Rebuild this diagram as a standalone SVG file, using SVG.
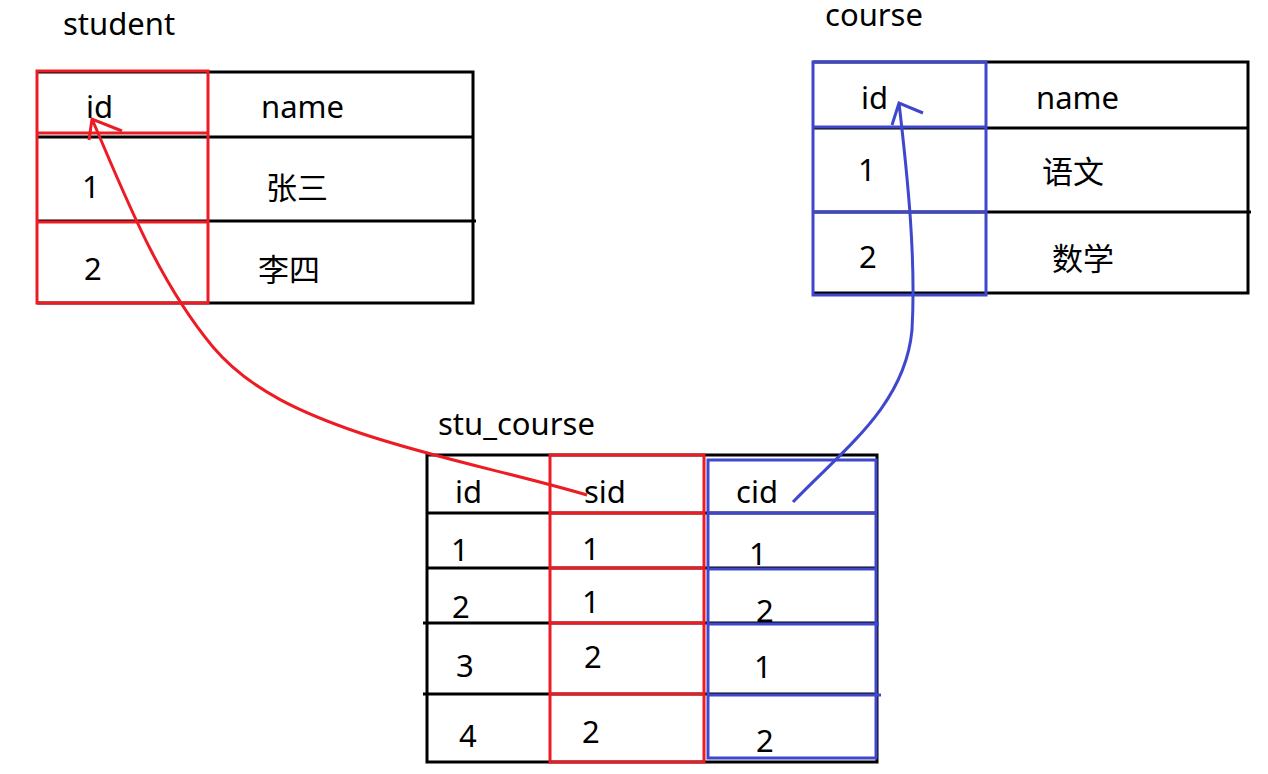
<svg xmlns="http://www.w3.org/2000/svg" width="1268" height="774" viewBox="0 0 1268 774">
<style>
text{font-family:"Noto Sans","Noto Sans CJK SC",sans-serif;font-size:31px;fill:#000}
.blk{fill:none;stroke:#000;stroke-width:3}
.red{fill:none;stroke:#ED1C24;stroke-width:3}
.blue{fill:none;stroke:#3F48CC;stroke-width:3}
</style>
<rect width="1268" height="774" fill="#fff"/>

<g id="student">
<text x="63" y="35">student</text>
<path class="blk" d="M37,72H473V303H37M37,137H473M37,221H476"/>
<path class="red" d="M37,71H208V303H37ZM37,133H208M37,222H208"/>
<text x="86" y="118">id</text>
<text x="261" y="118">name</text>
<text x="82" y="198">1</text>
<text x="266" y="199">张三</text>
<text x="84" y="280">2</text>
<text x="258" y="281">李四</text>
</g>

<g id="course">
<text x="825" y="26">course</text>
<path class="blk" d="M813,62H1248V293H813M813,128H1248M813,212H1251"/>
<path class="blue" d="M813,62H986V295H813ZM813,127H986M813,212H986"/>
<text x="861" y="109">id</text>
<text x="1036" y="109">name</text>
<text x="858" y="181">1</text>
<text x="1042" y="183">语文</text>
<text x="859" y="268">2</text>
<text x="1052" y="270">数学</text>
</g>

<g id="stu_course">
<text x="438" y="435">stu_course</text>
<path class="blk" d="M427,455H877V762H427ZM427,513H877M427,568H877M423,623H877M423,694H877"/>
<path class="red" d="M550,455H704V762H550ZM550,513H704M550,568H704M550,623H704M550,694H704"/>
<path class="blue" d="M708,460H876V758H708ZM708,513H876M708,569H876M708,624H879M708,695H881"/>
<text x="455" y="503">id</text>
<text x="584" y="503">sid</text>
<text x="736" y="503">cid</text>
<text x="451" y="561">1</text>
<text x="452" y="618">2</text>
<text x="456" y="677">3</text>
<text x="459" y="747">4</text>
<text x="582" y="560">1</text>
<text x="582" y="613">1</text>
<text x="584" y="668">2</text>
<text x="582" y="743">2</text>
<text x="749" y="565">1</text>
<text x="756" y="622">2</text>
<text x="754" y="678">1</text>
<text x="756" y="752">2</text>
</g>

<g id="connectors">
<path class="red" d="M587,495C512,473 434,458 360,433C306,414.5 250,391 213,347C158,281 126,198 92,119M122,131L92,119L89,140"/>
<path class="blue" d="M793,502C845,448 905,405 912,330C916,260 908,180 899,103M923,113L899,103L892,125"/>
</g>
</svg>
